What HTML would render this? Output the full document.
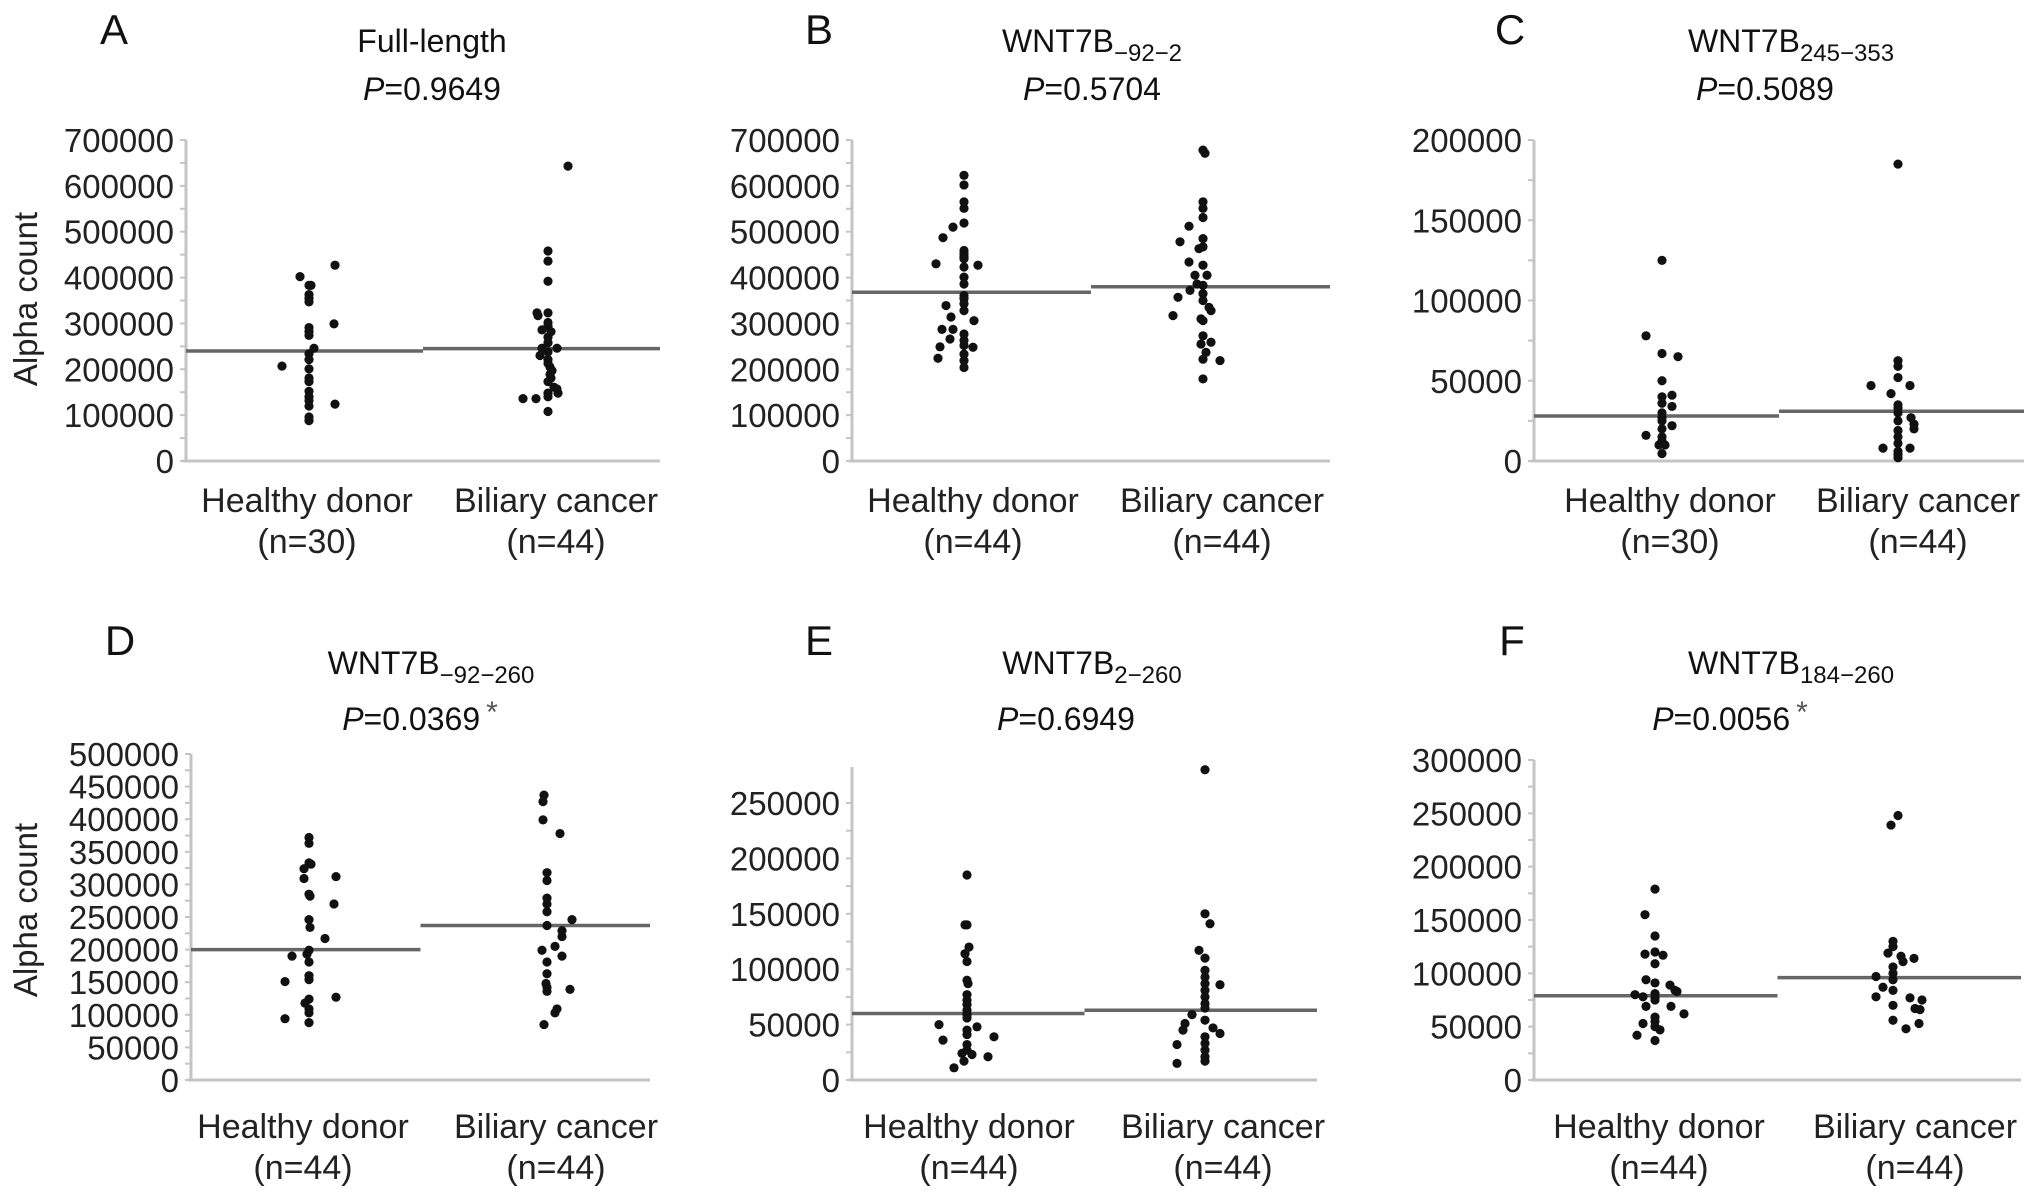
<!DOCTYPE html>
<html><head><meta charset="utf-8">
<style>
html,body{margin:0;padding:0;background:#fff;}
svg{display:block;font-family:"Liberation Sans",Arial,sans-serif;}
</style></head>
<body>
<svg id="fig" width="2032" height="1195" viewBox="0 0 2032 1195" xmlns="http://www.w3.org/2000/svg"></svg>
<script>
// ---- data: [value, jitter(px)] ----
const categories = ["Healthy donor", "Biliary cancer"];
const A_healthy = [[402000,-9],[383000,2],[383000,0],[363000,0],[355000,0],[347000,0],[427000,26],[299000,25],[291000,0],[282000,0],[274000,0],[246000,5],[234000,0],[221000,0],[207000,-27],[201000,0],[181000,0],[173000,0],[152000,0],[140000,0],[132000,0],[120000,0],[124000,26],[96000,0],[88000,0]];
const A_cancer = [[643000,20],[458000,0],[436000,0],[392000,0],[323000,-11],[317000,-10],[323000,0],[302000,0],[294000,0],[286000,-6],[282000,3],[270000,0],[258000,0],[246000,-6],[246000,9],[238000,0],[230000,-8],[221000,0],[213000,0],[205000,2],[197000,4],[189000,2],[181000,3],[173000,0],[161000,6],[157000,9],[148000,10],[148000,0],[136000,-25],[136000,-12],[140000,0],[108000,0]];
const B_healthy = [[623000,0],[602000,0],[565000,0],[551000,0],[519000,0],[510000,-11],[487000,-21],[459000,0],[452000,0],[445000,0],[441000,0],[430000,-28],[427000,14],[423000,0],[401000,0],[386000,0],[361000,0],[354000,0],[343000,0],[339000,-18],[328000,0],[314000,-13],[306000,10],[287000,-22],[287000,-11],[277000,0],[266000,-14],[263000,0],[252000,0],[249000,-24],[248000,9],[233000,0],[224000,-26],[219000,0],[204000,0]];
const B_cancer = [[678000,0],[671000,2],[565000,0],[551000,0],[531000,0],[512000,-14],[478000,-23],[485000,0],[463000,-4],[467000,0],[434000,-14],[427000,0],[405000,-8],[405000,4],[386000,-6],[383000,0],[372000,-13],[365000,0],[357000,-25],[350000,0],[335000,6],[328000,8],[317000,-30],[310000,-2],[306000,0],[273000,0],[259000,8],[255000,-2],[237000,3],[222000,0],[219000,17],[179000,0]];
const C_healthy = [[125000,0],[78000,-16],[67000,0],[65000,16],[50000,0],[41000,10],[40000,0],[36000,0],[34000,10],[30000,0],[27000,0],[25000,0],[22000,10],[20000,0],[16000,-16],[15000,0],[12500,0],[10000,-3],[10000,3],[4600,0]];
const C_cancer = [[185000,0],[62500,0],[59000,0],[52000,0],[47000,-27],[47000,12],[42000,-7],[35000,0],[33000,0],[30000,0],[27000,13],[25000,0],[23000,16],[20000,16],[19000,0],[15000,0],[11000,0],[8000,-15],[8000,12],[6000,0],[4000,0],[2000,0]];
const D_healthy = [[372000,0],[363000,0],[333000,0],[331000,2],[324000,-5],[309000,-5],[312000,27],[285000,0],[282000,1],[270000,25],[246000,0],[234000,1],[217000,16],[199000,0],[193000,-2],[190000,-17],[181000,0],[160000,0],[154000,0],[151000,-24],[127000,27],[124000,0],[118000,-4],[109000,0],[103000,0],[94000,-24],[88000,0]];
const D_cancer = [[437000,-3],[427000,-4],[399000,-4],[378000,13],[318000,0],[306000,0],[279000,0],[270000,0],[258000,0],[246000,25],[237000,0],[229000,15],[220000,15],[205000,8],[199000,-5],[190000,15],[181000,0],[163000,0],[148000,-1],[142000,0],[139000,23],[136000,0],[109000,10],[103000,8],[85000,-3]];
const E_healthy = [[185000,0],[140000,0],[140000,-2],[120000,2],[114000,-2],[107000,0],[90000,0],[87000,1],[77000,0],[72000,0],[68000,0],[63000,0],[59000,0],[56000,0],[50000,-28],[48000,10],[45000,0],[41000,0],[39000,27],[36000,-24],[32000,0],[27000,0],[24000,-5],[23000,5],[21000,21],[17000,-3],[11000,-13]];
const E_cancer = [[280000,0],[150000,0],[141000,5],[117000,-6],[110000,0],[99000,0],[93000,0],[87000,0],[86000,15],[81000,0],[75000,0],[69000,0],[65000,0],[59000,-13],[54000,0],[51000,-20],[47000,8],[45000,-22],[42000,15],[39000,0],[33000,0],[32000,-28],[27000,0],[21000,0],[17000,0],[15000,-28]];
const F_healthy = [[179000,0],[155000,-10],[135000,0],[120000,0],[118000,-10],[117000,8],[109000,0],[94000,-9],[91000,0],[89000,15],[84000,20],[83000,22],[81000,0],[80000,-20],[78000,-12],[77000,0],[75000,0],[69000,-9],[69000,16],[62000,29],[59000,0],[55000,0],[53000,-12],[50000,0],[47000,5],[42000,-18],[37000,0]];
const F_cancer = [[248000,5],[239000,-2],[130000,0],[125000,0],[119000,-5],[116000,8],[114000,21],[111000,10],[106000,0],[100000,0],[97000,-17],[94000,0],[87000,-10],[84000,0],[78000,-17],[77000,17],[75000,29],[70000,0],[67000,22],[66000,27],[56000,0],[53000,26],[48000,13]];
const medians = {A:[240000,245000],B:[368000,380000],C:[28000,31000],D:[200000,237000],E:[60000,63000],F:[79000,96000]};
const tickA = [0,100000,200000,300000,400000,500000,600000,700000];
const tickC = [0,50000,100000,150000,200000];
const tickD = [0,50000,100000,150000,200000,250000,300000,350000,400000,450000,500000];
const tickE = [0,50000,100000,150000,200000,250000];
const tickF = [0,50000,100000,150000,200000,250000,300000];
const nLabels = {A:["(n=30)","(n=44)"],B:["(n=44)","(n=44)"],C:["(n=30)","(n=44)"],D:["(n=44)","(n=44)"],E:["(n=44)","(n=44)"],F:["(n=44)","(n=44)"]};
const pValues = {A:"0.9649",B:"0.5704",C:"0.5089",D:"0.0369",E:"0.6949",F:"0.0056"};

// ---- layout ----
const panels = [
 {id:"A",x0:186,x1:660,top:140,tv:700000,zero:461,axTop:140,cx:[309,548],lx:[307,556],ticks:tickA,minor:50000,title:["Full-length",""],tx:432,px:432,letterX:114,data:[A_healthy,A_cancer],star:false},
 {id:"B",x0:852,x1:1330,top:140,tv:700000,zero:461,axTop:140,cx:[964,1203],lx:[973,1222],ticks:tickA,minor:50000,title:["WNT7B","\u221292\u22122"],tx:1092,px:1092,letterX:819,data:[B_healthy,B_cancer],star:false},
 {id:"C",x0:1534,x1:2024,top:140,tv:200000,zero:461,axTop:140,cx:[1662,1898],lx:[1670,1918],ticks:tickC,minor:25000,title:["WNT7B","245\u2212353"],tx:1791,px:1765,letterX:1510,data:[C_healthy,C_cancer],star:false},
 {id:"D",x0:191,x1:650,top:754,tv:500000,zero:1080,axTop:754,cx:[309,547],lx:[303,556],ticks:tickD,minor:25000,title:["WNT7B","\u221292\u2212260"],tx:431,px:420,letterX:120,data:[D_healthy,D_cancer],star:true},
 {id:"E",x0:852,x1:1317,top:803,tv:250000,zero:1080,axTop:767,cx:[967,1205],lx:[969,1223],ticks:tickE,minor:25000,title:["WNT7B","2\u2212260"],tx:1092,px:1066,letterX:819,data:[E_healthy,E_cancer],star:false},
 {id:"F",x0:1534,x1:2021,top:760,tv:300000,zero:1080,axTop:760,cx:[1655,1893],lx:[1659,1915],ticks:tickF,minor:25000,title:["WNT7B","184\u2212260"],tx:1791,px:1730,letterX:1512,data:[F_healthy,F_cancer],star:true}
];
const NS="http://www.w3.org/2000/svg";
const svg=document.getElementById("fig");
function mk(tag,attrs,parent,text){const e=document.createElementNS(NS,tag);for(const k in attrs)e.setAttribute(k,attrs[k]);if(text!==undefined)e.textContent=text;(parent||svg).appendChild(e);return e;}

panels.forEach(p=>{
  const row = p.top<500?0:1;
  const titleY = row?674:52, pY = row?730:100, letterY=row?655:44, catY=row?1138:512, nY=row?1179:553;
  const g=mk("g",{});
  
  
  const yS=v=>p.zero-(v/p.tv)*(p.zero-p.top);
  const L=mk("text",{x:p.letterX,y:letterY,"font-size":42,"text-anchor":"middle",fill:"#111"},g,p.id);
  
  
  const T=mk("text",{x:p.tx,y:titleY,"font-size":32,"text-anchor":"middle",fill:"#111"},g);
  
  
  mk("tspan",{},T,p.title[0]);
  if(p.title[1]){mk("tspan",{dy:9,"font-size":24},T,p.title[1]);}
  const P=mk("text",{x:p.px,y:pY,"font-size":32,"text-anchor":"middle",fill:"#111"},g);
  
  
  mk("tspan",{"font-style":"italic"},P,"P");
  mk("tspan",{},P,"="+pValues[p.id]);
  if(p.star){mk("tspan",{dx:6,dy:-8,"font-size":30,fill:"#555"},P,"*");}
  const ax=mk("line",{x1:p.x0,x2:p.x0,y1:p.axTop,y2:p.zero,stroke:"#c4c4c4","stroke-width":3},g);
  
  
  const bx=mk("line",{x1:p.x0-3,x2:p.x1,y1:p.zero,y2:p.zero,stroke:"#c4c4c4","stroke-width":3},g);
  
  
  for(let v=0; v<=p.tv+1; v+=p.minor){
    mk("line",{x1:p.x0-6,x2:p.x0,y1:yS(v),y2:yS(v),stroke:"#c4c4c4","stroke-width":2},g);
  }
  p.ticks.forEach(v=>{
    const t=mk("text",{x:p.x0-12,y:yS(v)+12,"font-size":33,"text-anchor":"end",fill:"#222"},g,String(v));
    
    
  });
  categories.forEach((c,i)=>{
    const t=mk("text",{x:p.lx[i],y:catY,"font-size":34,"text-anchor":"middle",fill:"#222"},g,c);
    
    
    const n=mk("text",{x:p.lx[i],y:nY,"font-size":34,"text-anchor":"middle",fill:"#222"},g,nLabels[p.id][i]);
    
    
  });
  const mid=(p.x0+p.x1)/2;
  [[p.x0,mid],[mid,p.x1]].forEach((seg,i)=>{
    const m=mk("line",{x1:seg[0],x2:seg[1],y1:yS(medians[p.id][i]),y2:yS(medians[p.id][i]),stroke:"#666","stroke-width":3.5},g);
    
    
  });
  p.data.forEach((arr,i)=>{
    arr.forEach(d=>{
      const c=mk("circle",{cx:p.cx[i]+d[1],cy:yS(d[0]),r:4.6,fill:"#111"},g);
      
      
    });
  });
});
[[299],[910]].forEach(r=>{
  const t=mk("text",{x:0,y:0,"font-size":33,"text-anchor":"middle",fill:"#222",transform:"translate(37,"+r[0]+") rotate(-90)"},svg,"Alpha count");
  
  
});
</script>
</body></html>
